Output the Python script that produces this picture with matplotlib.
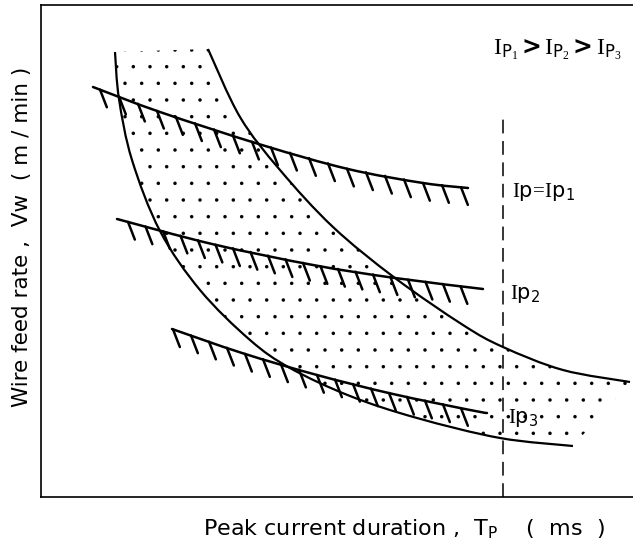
import numpy as np
import matplotlib.pyplot as plt
from matplotlib.path import Path
from matplotlib.patches import PathPatch

plt.rcParams['mathtext.fontset'] = 'custom'
plt.rcParams['mathtext.rm'] = 'Liberation Serif'
plt.rcParams['mathtext.sf'] = 'DejaVu Sans'
plt.rcParams['mathtext.it'] = 'Liberation Serif:italic'
plt.rcParams['hatch.linewidth'] = 0.1

# schematic units (no scale on the axes), y grows upwards
left_x = [74, 78, 91, 119, 159, 209, 249, 309, 376, 459, 532]
left_y = [445, 398, 337, 266, 207, 157, 129, 101, 79, 59, 51]

right_x = [167, 199, 239, 292, 354, 422, 462, 522, 589]
right_y = [448, 380, 327, 270, 219, 172, 150, 127, 115]

ip1_x = [52, 119, 221, 307, 382, 427]
ip1_y = [410, 385, 352, 328, 314, 309]

ip2_x = [76, 171, 272, 354, 442]
ip2_y = [278, 253, 232, 219, 208]

ip3_x = [131, 201, 276, 352, 429, 446]
ip3_y = [168, 144, 122, 103, 87, 84]

tp_limit = 462
tp_limit_top = 379


def smooth(xs, ys):
    # bezier pieces through the read points
    p = np.column_stack([xs, ys]).astype(float)
    verts, codes = [p[0]], [Path.MOVETO]
    n = len(p)
    for i in range(n - 1):
        p0 = p[i - 1] if i > 0 else p[i]
        p3 = p[i + 2] if i + 2 < n else p[i + 1]
        verts += [p[i] + (p[i + 1] - p0) / 6, p[i + 1] - (p3 - p[i]) / 6, p[i + 1]]
        codes += [Path.CURVE4] * 3
    return verts, codes


fig = plt.figure(figsize=(6.33, 5.44), dpi=100)
ax = fig.add_axes([41 / 633, 47 / 544, 592 / 633, 492 / 544])
ax.set_xlim(0, 592)
ax.set_ylim(0, 492)
ax.set_xticks([])
ax.set_yticks([])
ax.spines['right'].set_visible(False)
for s in ['left', 'bottom', 'top']:
    ax.spines[s].set_linewidth(1.2)

# stippled operating window between the two curves
rv, rc = smooth(right_x, right_y)
lv, lc = smooth(left_x[::-1], left_y[::-1])
lc[0] = Path.LINETO
win = Path(rv + lv + [lv[-1]], rc + lc + [Path.CLOSEPOLY])
ax.add_patch(PathPatch(win, facecolor='none', edgecolor='black', linewidth=0, hatch='.'))

for xs, ys in [(left_x, left_y), (right_x, right_y)]:
    v, c = smooth(xs, ys)
    ax.add_patch(PathPatch(Path(v, c), fill=False, edgecolor='black', lw=1.6))


def hatched(xs, ys, offset, step, end_gap):
    v, c = smooth(xs, ys)
    ax.add_patch(PathPatch(Path(v, c), fill=False, edgecolor='black', lw=1.8, capstyle='round'))
    tx = np.arange(xs[0] + offset, xs[-1] - end_gap, step)
    ty = np.interp(tx, xs, ys)
    dx, dy = 0.36 * 19, -0.93 * 19
    for x0, y0 in zip(tx, ty):
        ax.plot([x0, x0 + dx], [y0, y0 + dy], color='black', lw=1.8, solid_capstyle='round')


hatched(ip1_x, ip1_y, 7, 19, 5)
hatched(ip2_x, ip2_y, 11, 17.5, 8)
hatched(ip3_x, ip3_y, 1, 18, 10)

ax.plot([tp_limit, tp_limit], [0, tp_limit_top], color='black', lw=1.1, dashes=(9, 5))

ax.text(516, 447, r'$\mathrm{I}_{\mathsf{P}_1}\mathbf{>}\mathrm{I}_{\mathsf{P}_2}\mathbf{>}\mathrm{I}_{\mathsf{P}_3}$',
        fontsize=17, ha='center', va='center')
ax.text(471, 305, r'$\mathrm{I}\mathsf{p}\!=\!\mathrm{I}\mathsf{p}_{\mathsf{1}}$', fontsize=15, ha='left', va='center')
ax.text(469, 203, r'$\mathrm{I}\mathsf{p}_{\mathsf{2}}$', fontsize=15, ha='left', va='center')
ax.text(467, 79, r'$\mathrm{I}\mathsf{p}_{\mathsf{3}}$', fontsize=15, ha='left', va='center')

fig.text(203 / 633, 1 - 528 / 544, r'Peak current duration ,  T$_\mathsf{P}$    (  ms  )',
         fontsize=16, ha='left', va='center', family='DejaVu Sans')
fig.text(22 / 633, 1 - 407 / 544, 'Wire feed rate ,  Vw  ( m / min )', fontsize=15.5,
         rotation=90, ha='center', va='bottom', family='DejaVu Sans')

fig.savefig('out.png', dpi=100)
